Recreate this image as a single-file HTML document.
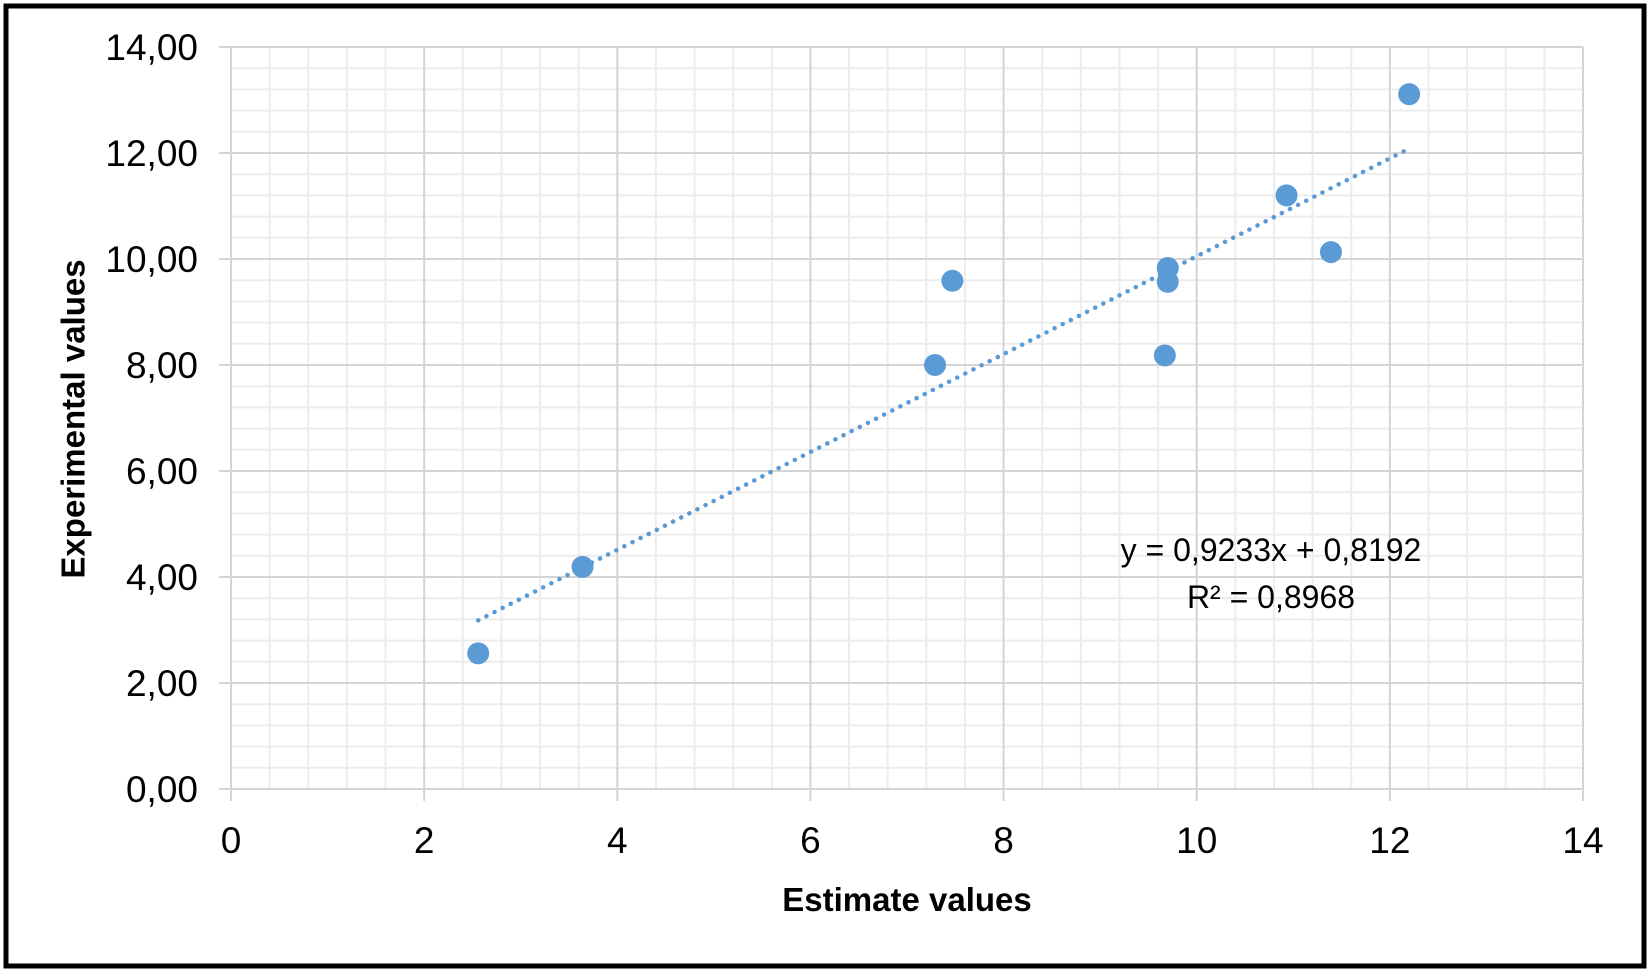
<!DOCTYPE html>
<html><head><meta charset="utf-8"><style>
html,body{margin:0;padding:0;background:#fff;}
svg{display:block;font-family:"Liberation Sans",Arial,sans-serif;}
</style></head><body>
<svg id="chart" width="1650" height="976" viewBox="0 0 1650 976">
<rect x="6" y="6" width="1638" height="960" fill="#fff" stroke="#000" stroke-width="5"/>
<g id="grid"></g><g id="axes"></g><g id="trend"></g><g id="points"></g>
<text x="76" y="419" transform="rotate(-90 76 419)" text-anchor="middle" dominant-baseline="middle" font-size="33" font-weight="bold">Experimental values</text>
<text x="907" y="911" text-anchor="middle" font-size="33" font-weight="bold">Estimate values</text>
<text x="1271" y="561" text-anchor="middle" font-size="32">y = 0,9233x + 0,8192</text>
<text x="1271" y="608" text-anchor="middle" font-size="32">R² = 0,8968</text>
</svg>
<script>
const xValues = [2.56, 3.64, 7.29, 7.47, 9.67, 9.70, 9.70, 10.93, 11.39, 12.20];
const yValues = [2.56, 4.19, 8.00, 9.59, 8.18, 9.83, 9.57, 11.20, 10.13, 13.11];
const xTicks = [0, 2, 4, 6, 8, 10, 12, 14];
const yTicks = [0, 2, 4, 6, 8, 10, 12, 14];
const yTickLabels = ["0,00","2,00","4,00","6,00","8,00","10,00","12,00","14,00"];
const slope = 0.9233, intercept = 0.8192;

const NS = "http://www.w3.org/2000/svg";
const X0 = 231, X1 = 1583, Y0 = 789, Y1 = 47;
const sx = v => X0 + (v / 14) * (X1 - X0);
const sy = v => Y0 - (v / 14) * (Y0 - Y1);
function mk(tag, attrs, parent) {
  const e = document.createElementNS(NS, tag);
  for (const k in attrs) e.setAttribute(k, attrs[k]);
  parent.appendChild(e); return e;
}
const grid = document.getElementById("grid"), axes = document.getElementById("axes");
for (let v = 0; v <= 14.001; v += 0.4) {
  const major = Math.abs(v / 2 - Math.round(v / 2)) < 1e-6;
  if (major) continue;
  let l = mk("line", {x1: sx(v), x2: sx(v), y1: Y1, y2: Y0, stroke: "#ececec", "stroke-width": 2}, grid);
  
  
  l = mk("line", {x1: X0, x2: X1, y1: sy(v), y2: sy(v), stroke: "#ececec", "stroke-width": 2}, grid);
  
  
}
xTicks.forEach(t => {
  const l = mk("line", {x1: sx(t), x2: sx(t), y1: Y1, y2: Y0 + 12, stroke: "#d4d4d4", "stroke-width": 2}, grid);
  
  
  const tx = mk("text", {x: sx(t), y: 853, "text-anchor": "middle", "font-size": 37}, axes);
  tx.textContent = t;
  
  
});
yTicks.forEach((t, i) => {
  const l = mk("line", {x1: X0 - 12, x2: X1, y1: sy(t), y2: sy(t), stroke: "#d4d4d4", "stroke-width": 2}, grid);
  
  
  const tx = mk("text", {x: 198, y: sy(t) + 13, "text-anchor": "end", "font-size": 37}, axes);
  tx.textContent = yTickLabels[i];
  
  
});
const xmin = Math.min(...xValues), xmax = Math.max(...xValues);
const tl = mk("line", {x1: sx(xmin), y1: sy(slope * xmin + intercept), x2: sx(xmax), y2: sy(slope * xmax + intercept),
  stroke: "#5b9bd5", "stroke-width": 4.5, "stroke-dasharray": "0.1 9", "stroke-linecap": "round"}, document.getElementById("trend"));


const pts = document.getElementById("points");
xValues.forEach((x, i) => {
  const c = mk("circle", {cx: sx(x), cy: sy(yValues[i]), r: 11, fill: "#5b9bd5"}, pts);
  
  
});
</script>
</body></html>
